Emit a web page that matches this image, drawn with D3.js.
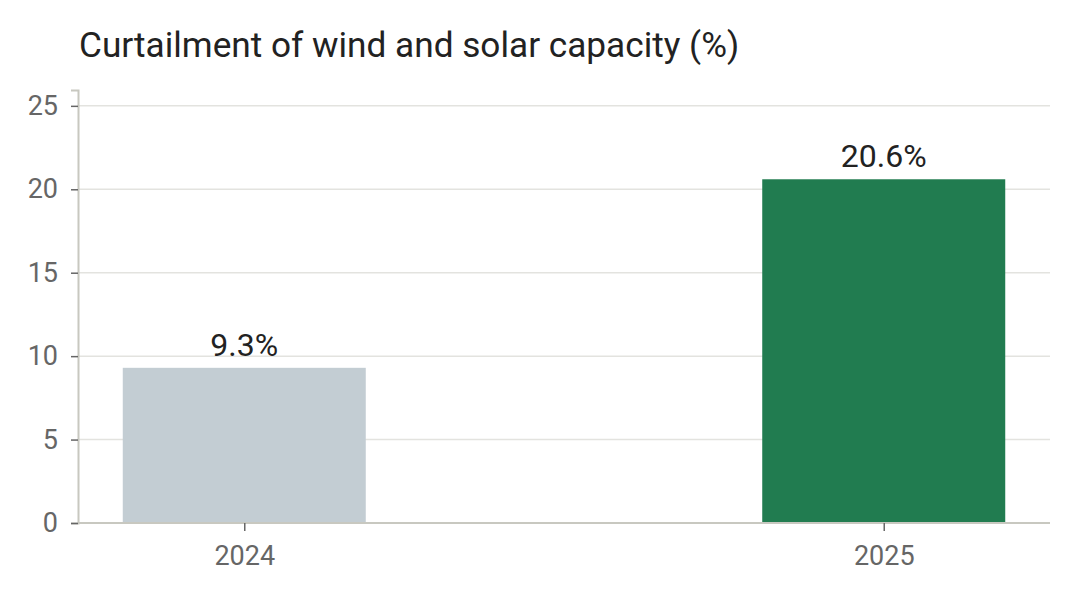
<!DOCTYPE html>
<html>
<head>
<meta charset="utf-8">
<script src="https://cdn.jsdelivr.net/npm/d3@7"></script>
<style>
  body { margin: 0; background: #fff; }
  text { font-family: Roboto, sans-serif; }
</style>
</head>
<body>
<svg id="mainsvg" width="1080" height="600"></svg>
<script>
let years = ["2024", "2025"];
let values = [9.3, 20.6];
let barColors = ["#c3cdd3", "#217c50"];
let yTicks = [0, 5, 10, 15, 20, 25];

let svg = d3.select("#mainsvg");
let plotLeft = 78, plotRight = 1050, plotTop = 90, plotBottom = 523;
let fontFam = "Roboto, sans-serif";

let x = d3.scalePoint().domain(years).range([plotLeft, plotRight]).padding(0.26);
let y = d3.scaleLinear().domain([0, 25.95]).range([plotBottom, plotTop]);
let barW = x.step() * 0.38;

// title
svg.append("text")
    .attr("x", 79).attr("y", 57)
    .attr("font-size", 35.2).attr("fill", "#222")
    .text("Curtailment of wind and solar capacity (%)");

// grid
svg.append("g").selectAll("line").data(yTicks.filter(d => d > 0)).enter()
    .append("line")
    .attr("x1", plotLeft).attr("x2", plotRight)
    .attr("y1", d => y(d)).attr("y2", d => y(d))
    .attr("stroke", "#e3e3df").attr("stroke-width", 1.5);

// bars
svg.append("g").selectAll("rect").data(values).enter()
    .append("rect")
    .attr("x", (d, i) => x(years[i]) - barW / 2)
    .attr("width", barW)
    .attr("y", d => y(d))
    .attr("height", d => plotBottom - y(d))
    .attr("fill", (d, i) => barColors[i]);

// value labels
svg.append("g").selectAll("text").data(values).enter()
    .append("text")
    .attr("x", (d, i) => x(years[i]))
    .attr("y", d => y(d) - 12)
    .attr("text-anchor", "middle")
    .attr("font-size", 32).attr("fill", "#222")
    .text(d => d.toFixed(1) + "%");

// y axis
let yAxis = svg.append("g")
    .attr("transform", "translate(" + plotLeft + ",0)")
    .call(d3.axisLeft(y).tickValues(yTicks).tickSize(7).tickPadding(13));
yAxis.select(".domain").attr("stroke", "#c8c8c0").attr("stroke-width", 2);
yAxis.selectAll(".tick line").attr("stroke", "#666").attr("stroke-width", 1.5);
yAxis.selectAll(".tick text").attr("font-size", 27).attr("fill", "#666")
    .style("font-family", fontFam);

// x axis
let xAxis = svg.append("g")
    .attr("transform", "translate(0," + plotBottom + ")")
    .call(d3.axisBottom(x).tickSize(8).tickPadding(15));
xAxis.select(".domain").attr("stroke", "#c8c8c0").attr("stroke-width", 2)
    .attr("d", "M" + plotLeft + ",0H" + plotRight);
xAxis.selectAll(".tick line").attr("stroke", "#666").attr("stroke-width", 1.5);
xAxis.selectAll(".tick text").attr("font-size", 27).attr("fill", "#666")
    .style("font-family", fontFam);
</script>
</body>
</html>
